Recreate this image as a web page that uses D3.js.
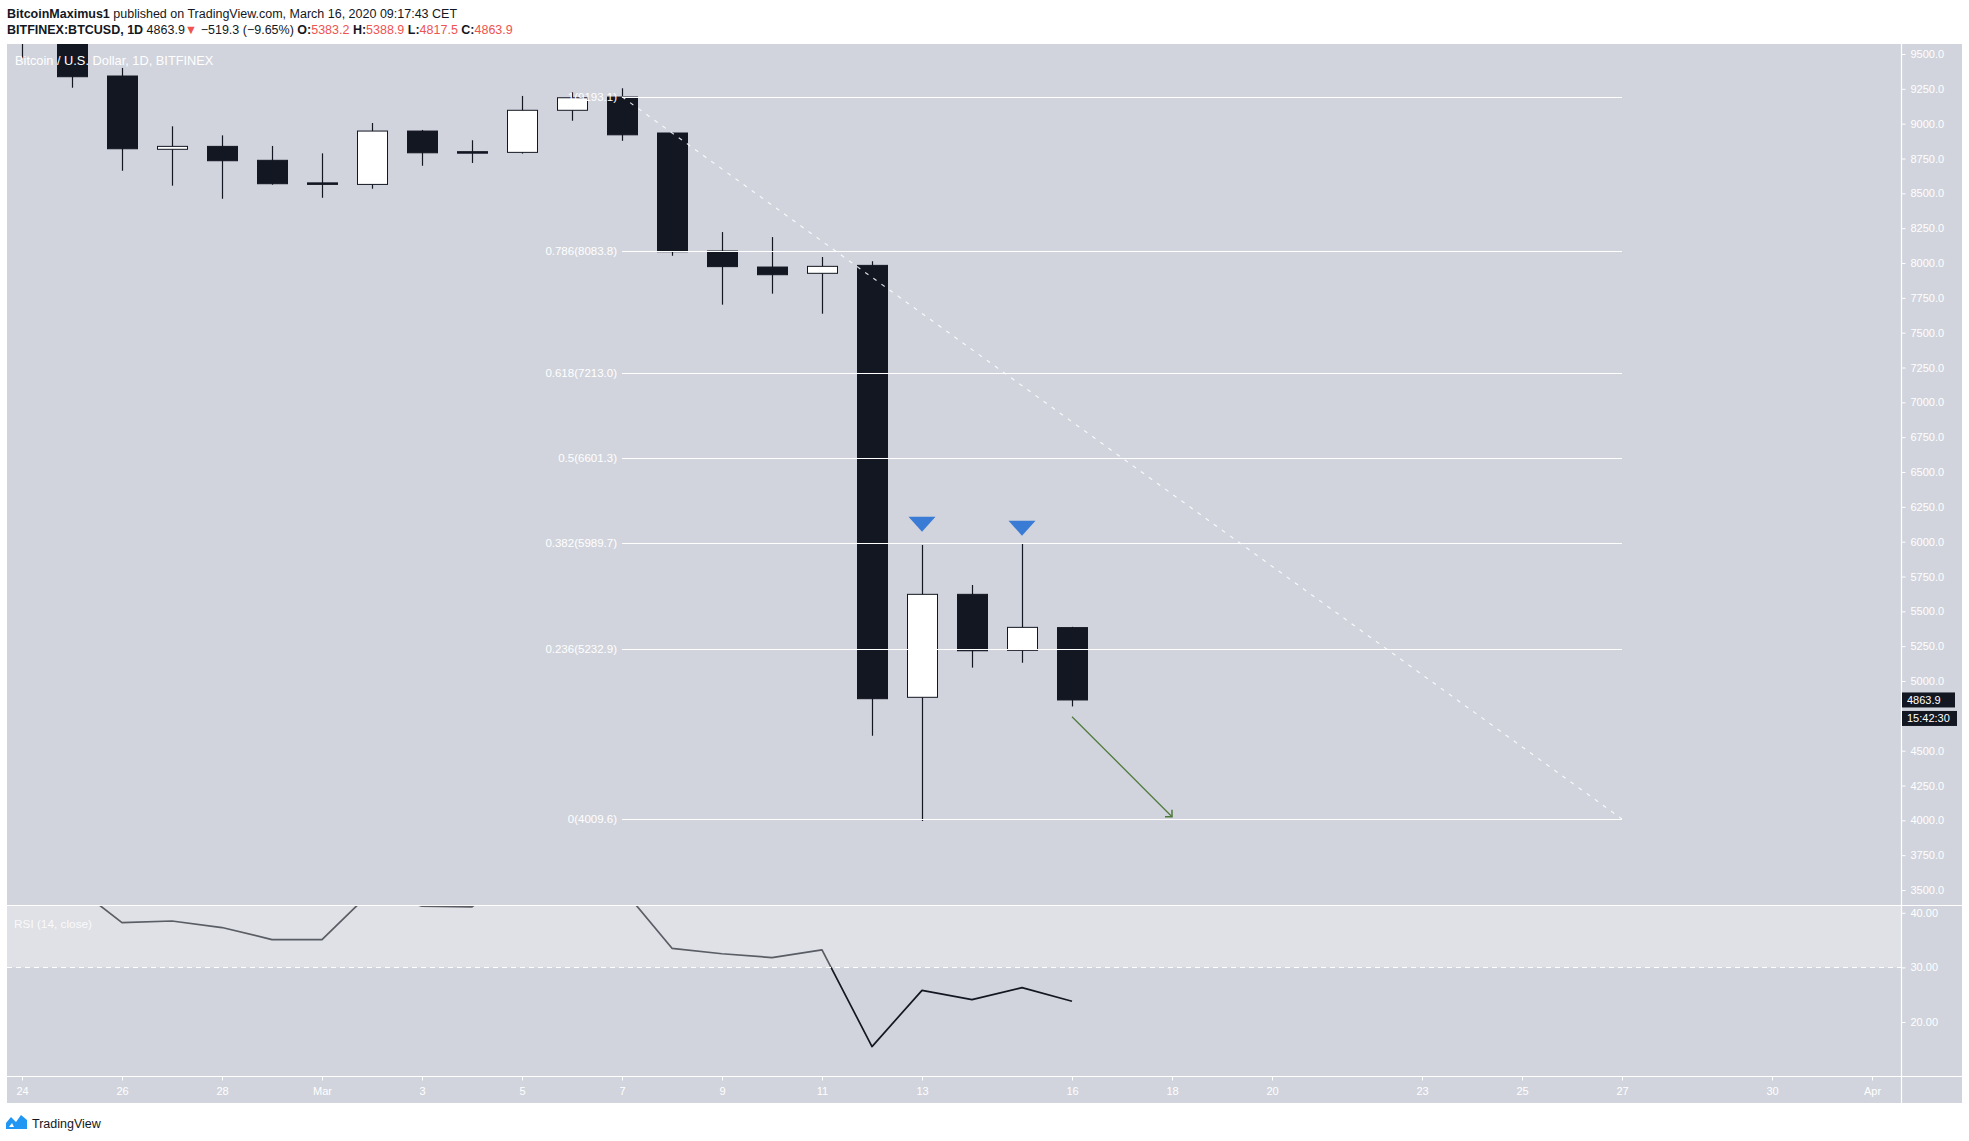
<!DOCTYPE html>
<html>
<head>
<meta charset="utf-8">
<script src="https://cdn.jsdelivr.net/npm/d3@7/dist/d3.min.js"></script>
<style>
  html, body { margin: 0; padding: 0; background: #ffffff; }
  svg { display: block; font-family: "Liberation Sans", Arial, sans-serif; }
</style>
</head>
<body>
<script>
// ---------------- DATA ----------------
const dates  = ["2020-02-24","2020-02-25","2020-02-26","2020-02-27","2020-02-28","2020-02-29","2020-03-01",
                "2020-03-02","2020-03-03","2020-03-04","2020-03-05","2020-03-06","2020-03-07","2020-03-08",
                "2020-03-09","2020-03-10","2020-03-11","2020-03-12","2020-03-13","2020-03-14","2020-03-15","2020-03-16"];
const opens  = [9960, 9660, 9342, 8816, 8837, 8737, 8575, 8564, 8947, 8799, 8794, 9096, 9191, 8933, 8086, 7971, 7926, 7983, 4883, 5622, 5220, 5383.2];
const highs  = [10020,9680, 9400, 8981, 8916, 8840, 8787, 9005, 8955, 8881, 9199, 9225, 9254, 8933, 8222, 8186, 8043, 8012, 5976, 5689, 5990, 5388.9];
const lows   = [9470, 9258, 8662, 8555, 8461, 8562, 8468, 8533, 8698, 8718, 8785, 9021, 8877, 8052, 7701, 7780, 7636, 4607, 3995, 5096, 5131, 4817.5];
const closes = [9660, 9337, 8820, 8837, 8734, 8569, 8569, 8947, 8791, 8790, 9096, 9186, 8920, 8081, 7974, 7916, 7976, 4873, 5622, 5217, 5385, 4863.9];
const rsi    = [51, 45.3, 38.2, 38.5, 37.3, 35.1, 35.1, 44, 41.2, 41.1, 48, 50, 44.5, 33.5, 32.5, 31.8, 33.2, 15.5, 25.8, 24.1, 26.3, 23.8];

const fibLevels = ["1", "0.786", "0.618", "0.5", "0.382", "0.236", "0"];
const fibPrices = [9193.1, 8083.8, 7213.0, 6601.3, 5989.7, 5232.9, 4009.6];
const fibStart  = ["2020-03-07", 9193.1];
const fibEnd    = ["2020-03-27", 4009.6];

const arrowStart = ["2020-03-16", 4744];
const arrowEnd   = ["2020-03-18", 4026];

const markerDates  = ["2020-03-13", "2020-03-15"];
const markerPrices = [6071, 6043];

const timeTickDates  = ["2020-02-24","2020-02-26","2020-02-28","2020-03-01","2020-03-03","2020-03-05","2020-03-07",
                        "2020-03-09","2020-03-11","2020-03-13","2020-03-16","2020-03-18","2020-03-20","2020-03-23",
                        "2020-03-25","2020-03-27","2020-03-30","2020-04-01"];
const timeTickLabels = ["24","26","28","Mar","3","5","7","9","11","13","16","18","20","23","25","27","30","Apr"];
// 4750 is hidden behind the last-price / countdown labels in the reference
const priceTicks = [9500, 9250, 9000, 8750, 8500, 8250, 8000, 7750, 7500, 7250, 7000, 6750, 6500, 6250,
                    6000, 5750, 5500, 5250, 5000, 4500, 4250, 4000, 3750, 3500];
const rsiTicks = [20, 30, 40];

const lastPrice = 4863.9;
const timerText = "15:42:30";

// ---------------- LAYOUT ----------------
const W = 1969, H = 1141;
const L = 7, R = 1962, AX = 1901;
const PT = 44, PB = 905, RB = 1076, TB = 1103;
const BG = "#d1d4dc", DARK = "#131722";

const parse = s => new Date(s + "T00:00:00Z");
const x = d3.scaleUtc().domain([parse("2020-02-24"), parse("2020-04-01")]).range([22, 1872]);
const y = d3.scaleLinear().domain([3500, 9500]).range([890, 54]);
const ry = d3.scaleLinear().domain([20, 40]).range([1022, 912.8]);

const svg = d3.select("body").append("svg").attr("width", W).attr("height", H);

svg.append("rect").attr("width", W).attr("height", H).attr("fill", "#fff");
svg.append("rect").attr("x", L).attr("y", PT).attr("width", R - L).attr("height", TB - PT).attr("fill", BG);

const defs = svg.append("defs");
defs.append("clipPath").attr("id", "pclip").append("rect").attr("x", L).attr("y", PT).attr("width", AX - L).attr("height", PB - PT);
defs.append("clipPath").attr("id", "rclip").append("rect").attr("x", L).attr("y", PB).attr("width", AX - L).attr("height", RB - PB);

// ---------------- PRICE PANE ----------------
const pg = svg.append("g").attr("clip-path", "url(#pclip)");

const candles = dates.map((d, i) => ({ d: parse(d), o: opens[i], h: highs[i], l: lows[i], c: closes[i] }));
const bw = 31;

const cg = pg.append("g");
cg.selectAll("line.wick").data(candles).join("line")
  .attr("x1", d => Math.round(x(d.d)) + 0.5).attr("x2", d => Math.round(x(d.d)) + 0.5)
  .attr("y1", d => y(d.h)).attr("y2", d => y(d.l))
  .attr("stroke", DARK).attr("stroke-width", 1.2);
cg.selectAll("rect.body").data(candles).join("rect")
  .attr("x", d => Math.round(x(d.d)) - bw / 2 + 1)
  .attr("width", bw - 1)
  .attr("y", d => y(Math.max(d.o, d.c)))
  .attr("height", d => Math.max(1.5, Math.abs(y(d.o) - y(d.c))))
  .attr("fill", d => d.c >= d.o ? "#ffffff" : DARK)
  .attr("stroke", DARK).attr("stroke-width", 1);

// Fib retracement
const fx1 = x(parse(fibStart[0])), fx2 = x(parse(fibEnd[0]));
const fg = pg.append("g");
fg.selectAll("line").data(fibPrices).join("line")
  .attr("x1", fx1).attr("x2", fx2)
  .attr("y1", d => Math.round(y(d)) + 0.5).attr("y2", d => Math.round(y(d)) + 0.5)
  .attr("stroke", "#ffffff").attr("stroke-width", 1.2);
fg.append("line")
  .attr("x1", fx1).attr("y1", y(fibStart[1])).attr("x2", fx2).attr("y2", y(fibEnd[1]))
  .attr("stroke", "rgba(255,255,255,0.85)").attr("stroke-width", 1.2).attr("stroke-dasharray", "4,6");
fg.selectAll("text").data(fibPrices).join("text")
  .attr("x", fx1 - 5).attr("y", d => y(d) + 4)
  .attr("text-anchor", "end").attr("fill", "#ffffff").attr("font-size", 11.5)
  .text((d, i) => fibLevels[i] + "(" + d.toFixed(1) + ")");

// Blue markers
pg.selectAll("path.mark").data(markerDates).join("path")
  .attr("d", (d, i) => {
    const cx = x(parse(d)), ty = y(markerPrices[i]);
    return `M${cx - 13.5},${ty - 15} L${cx + 13.5},${ty - 15} L${cx},${ty} Z`;
  })
  .attr("fill", "#3a7bd5");

// Green arrow
const ax1 = x(parse(arrowStart[0])), ay1 = y(arrowStart[1]);
const ax2 = x(parse(arrowEnd[0])), ay2 = y(arrowEnd[1]);
pg.append("line").attr("x1", ax1).attr("y1", ay1).attr("x2", ax2).attr("y2", ay2)
  .attr("stroke", "#4e7a3c").attr("stroke-width", 1.3);
pg.append("path").attr("d", `M${ax2 - 7},${ay2} L${ax2},${ay2} L${ax2},${ay2 - 7}`)
  .attr("fill", "none").attr("stroke", "#4e7a3c").attr("stroke-width", 1.5);

// Title
svg.append("text").attr("x", 15).attr("y", 65).attr("fill", "#ffffff").attr("font-size", 12.8)
  .text("Bitcoin / U.S. Dollar, 1D, BITFINEX");

// ---------------- RSI PANE ----------------
const rg = svg.append("g").attr("clip-path", "url(#rclip)");
const rsiLine = d3.line().x((d, i) => x(parse(dates[i]))).y(d => ry(d));
rg.append("path").datum(rsi).attr("d", rsiLine)
  .attr("fill", "none").attr("stroke", DARK).attr("stroke-width", 1.7).attr("stroke-linejoin", "round");
rg.append("rect").attr("x", L).attr("y", PB).attr("width", AX - L).attr("height", ry(30) - PB)
  .attr("fill", "rgba(255,255,255,0.3)");
rg.append("line").attr("x1", L).attr("x2", AX).attr("y1", Math.round(ry(30)) + 0.5).attr("y2", Math.round(ry(30)) + 0.5)
  .attr("stroke", "#ffffff").attr("stroke-width", 1).attr("stroke-dasharray", "5,4");
svg.append("text").attr("x", 14).attr("y", 928).attr("fill", "rgba(255,255,255,0.85)").attr("font-size", 11.8)
  .text("RSI (14, close)");

// ---------------- SEPARATORS ----------------
svg.append("line").attr("x1", L).attr("x2", R).attr("y1", PB + 0.5).attr("y2", PB + 0.5).attr("stroke", "#fff").attr("stroke-width", 1.2);
svg.append("line").attr("x1", L).attr("x2", R).attr("y1", RB + 0.5).attr("y2", RB + 0.5).attr("stroke", "#fff").attr("stroke-width", 1.2);
svg.append("line").attr("x1", AX + 0.5).attr("x2", AX + 0.5).attr("y1", PT).attr("y2", TB).attr("stroke", "#fff").attr("stroke-width", 1.2);

// ---------------- AXES ----------------
function styleAxis(g) {
  g.select(".domain").remove();
  g.selectAll(".tick line").attr("stroke", "#ffffff");
  g.selectAll(".tick text").attr("fill", "#ffffff").attr("font-size", 11)
    .attr("font-family", "\"Liberation Sans\", Arial, sans-serif");
}
const priceAxis = svg.append("g").attr("transform", `translate(${AX + 0.5},0)`)
  .call(d3.axisRight(y).tickValues(priceTicks).tickFormat(d3.format(".1f")).tickSize(4).tickPadding(5));
styleAxis(priceAxis);

const rsiAxis = svg.append("g").attr("transform", `translate(${AX + 0.5},0)`)
  .call(d3.axisRight(ry).tickValues(rsiTicks).tickFormat(d3.format(".2f")).tickSize(4).tickPadding(5));
styleAxis(rsiAxis);

const timeAxis = svg.append("g").attr("transform", `translate(0,${RB + 0.5})`)
  .call(d3.axisBottom(x).tickValues(timeTickDates.map(parse))
    .tickFormat((d, i) => timeTickLabels[i]).tickSize(4).tickPadding(7));
styleAxis(timeAxis);

// last price + timer labels
const lpY = y(lastPrice);
svg.append("rect").attr("x", AX + 1).attr("y", lpY - 7.5).attr("width", 53).attr("height", 15).attr("fill", DARK);
svg.append("text").attr("x", AX + 6).attr("y", lpY + 4).attr("fill", "#fff").attr("font-size", 11).text(lastPrice.toFixed(1));
svg.append("rect").attr("x", AX + 1).attr("y", lpY + 11).attr("width", 55).attr("height", 15).attr("fill", DARK);
svg.append("text").attr("x", AX + 6).attr("y", lpY + 22.5).attr("fill", "#fff").attr("font-size", 11).text(timerText);

// ---------------- HEADER ----------------
const h1 = svg.append("text").attr("x", 7).attr("y", 17.5).attr("fill", DARK).attr("font-size", 12.5);
h1.append("tspan").attr("font-weight", "bold").text("BitcoinMaximus1");
h1.append("tspan").text(" published on TradingView.com, March 16, 2020 09:17:43 CET");

const RED = "#ef5350";
const h2 = svg.append("text").attr("x", 7).attr("y", 33.5).attr("fill", DARK).attr("font-size", 12.5);
h2.append("tspan").attr("font-weight", "bold").text("BITFINEX:BTCUSD, 1D");
h2.append("tspan").text("  4863.9");
h2.append("tspan").attr("fill", RED).text("▼");
h2.append("tspan").text(" −519.3 (−9.65%) ");
[["O:", "5383.2"], ["H:", "5388.9"], ["L:", "4817.5"], ["C:", "4863.9"]].forEach((p, i) => {
  h2.append("tspan").attr("font-weight", "bold").text((i ? " " : "") + p[0]);
  h2.append("tspan").attr("fill", RED).text(p[1]);
});

// ---------------- FOOTER LOGO ----------------
const logo = svg.append("g").attr("transform", "translate(6,1114)");
logo.append("path")
  .attr("d", "M0,15 L0,9 L5,3 L10,8 L15,1 L21,6 L21,15 Z M3,13 L8,13 L6,9 Z")
  .attr("fill", "#2196f3").attr("fill-rule", "evenodd");
svg.append("text").attr("x", 32).attr("y", 1127.5).attr("fill", DARK).attr("font-size", 12.5).text("TradingView");
</script>
</body>
</html>
